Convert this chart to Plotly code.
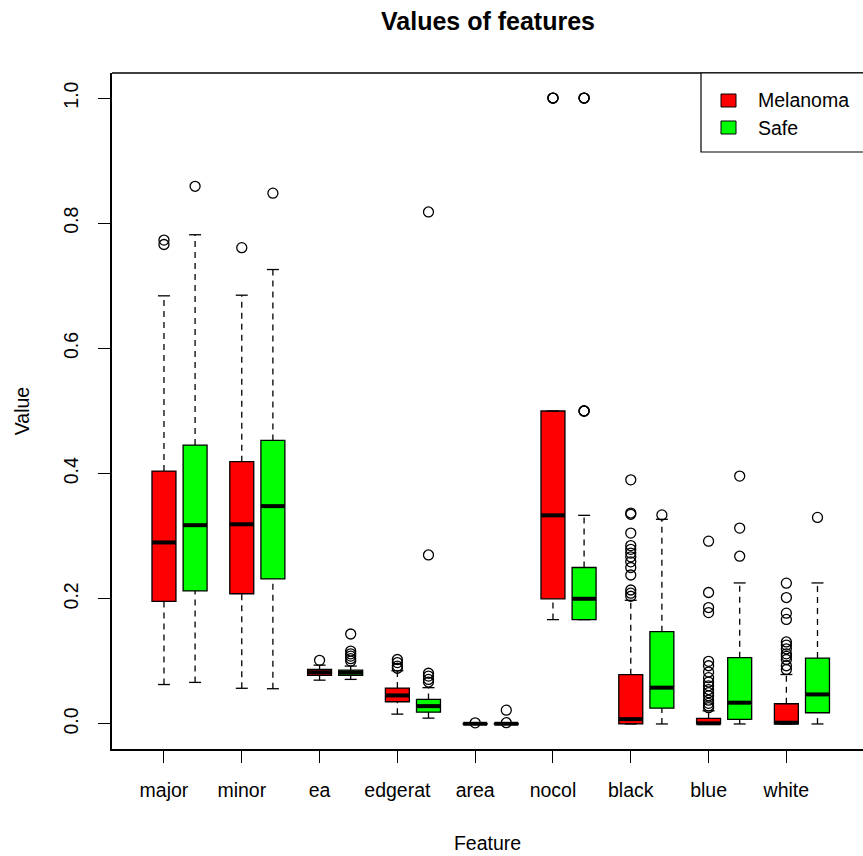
import plotly.graph_objects as go

# Features on the x axis
features = ["major", "minor", "ea", "edgerat", "area", "nocol", "black", "blue", "white"]

# Melanoma box statistics (lower whisker, Q1, median, Q3, upper whisker)
mel_low = [0.063, 0.057, 0.070, 0.0157, 0.0, 0.1667, 0.0, 0.0, 0.0]
mel_q1 = [0.196, 0.208, 0.0776, 0.0355, 0.0, 0.2, 0.0, 0.0, 0.0]
mel_med = [0.290, 0.319, 0.0824, 0.0456, 0.0003, 0.3333, 0.0077, 0.001, 0.002]
mel_q3 = [0.404, 0.419, 0.087, 0.0573, 0.0006, 0.5, 0.0787, 0.0088, 0.0323]
mel_high = [0.684, 0.685, 0.094, 0.085, 0.0012, 0.5, 0.1976, 0.021, 0.079]
mel_out = [
    [0.773, 0.766],
    [0.761],
    [0.1016],
    [0.103, 0.098, 0.0925, 0.089],
    [0.0018],
    [1.0, 1.0, 1.0],
    [0.390, 0.337, 0.335, 0.305, 0.285, 0.279, 0.273, 0.267, 0.259, 0.250, 0.238, 0.214, 0.209, 0.204],
    [0.292, 0.210, 0.186, 0.178, 0.100, 0.093, 0.083, 0.074, 0.067, 0.061, 0.055, 0.050, 0.045,
     0.038, 0.033, 0.029, 0.026],
    [0.225, 0.202, 0.177, 0.167, 0.131, 0.126, 0.120, 0.112, 0.108, 0.103, 0.093, 0.087],
]

# Safe box statistics
safe_low = [0.0664, 0.0563, 0.0712, 0.0093, 0.0, 0.1667, 0.0, 0.0, 0.0]
safe_q1 = [0.2125, 0.2317, 0.0776, 0.0189, 0.0, 0.1667, 0.0253, 0.0072, 0.0179]
safe_med = [0.3176, 0.348, 0.082, 0.0285, 0.0003, 0.2, 0.058, 0.034, 0.0472]
safe_q3 = [0.4456, 0.453, 0.086, 0.0392, 0.0006, 0.25, 0.1475, 0.1059, 0.1053]
safe_high = [0.7816, 0.726, 0.0925, 0.058, 0.0012, 0.3333, 0.327, 0.2253, 0.2253]
safe_out = [
    [0.859],
    [0.848],
    [0.1437, 0.1165, 0.112, 0.1085, 0.1043, 0.1005],
    [0.818, 0.270, 0.081, 0.0765, 0.0712, 0.067],
    [0.022, 0.002],
    [1.0, 1.0, 1.0, 0.5, 0.5, 0.5],
    [0.334],
    [0.396, 0.313, 0.268],
    [0.330],
]

y_ticks = [0.0, 0.2, 0.4, 0.6, 0.8, 1.0]

MEL_COLOR = "#FF0000"
SAFE_COLOR = "#00FF00"
FONT = "Liberation Sans, Arial, Helvetica, sans-serif"

W, H = 863, 856
L, R, T, B = 112, 0, 73, 107
BOX_W = 0.308
SHIFT = 0.4

pos = list(range(1, len(features) + 1))
mel_x = [p for p in pos]
safe_x = [p + SHIFT for p in pos]

fig = go.Figure()


def add_group(xs, low, q1, med, q3, high, outs, color):
    # dashed whiskers
    wx, wy = [], []
    for x, lo, a, b, hi in zip(xs, low, q1, q3, high):
        wx += [x, x, None, x, x, None]
        wy += [b, hi, None, lo, a, None]
    fig.add_trace(go.Scatter(x=wx, y=wy, mode="lines", showlegend=False, hoverinfo="skip",
                             line=dict(color="black", width=1.3, dash="6px,5px")))
    # staples
    sx, sy = [], []
    for x, lo, hi in zip(xs, low, high):
        for v in (lo, hi):
            sx += [x - BOX_W / 4, x + BOX_W / 4, None]
            sy += [v, v, None]
    fig.add_trace(go.Scatter(x=sx, y=sy, mode="lines", showlegend=False, hoverinfo="skip",
                             line=dict(color="black", width=1.3)))
    # boxes
    fig.add_trace(go.Box(x=xs, q1=q1, median=med, q3=q3, lowerfence=q1, upperfence=q3,
                         width=BOX_W, whiskerwidth=0, boxpoints=False, showlegend=False,
                         fillcolor=color, line=dict(color="black", width=1.3)))
    # thick medians
    mx, my = [], []
    for x, m in zip(xs, med):
        mx += [x - BOX_W / 2, x + BOX_W / 2, None]
        my += [m, m, None]
    fig.add_trace(go.Scatter(x=mx, y=my, mode="lines", showlegend=False, hoverinfo="skip",
                             line=dict(color="black", width=4)))
    # outliers
    ox, oy = [], []
    for x, o in zip(xs, outs):
        ox += [x] * len(o)
        oy += o
    fig.add_trace(go.Scatter(x=ox, y=oy, mode="markers", showlegend=False,
                             marker=dict(symbol="circle-open", size=10, color="black",
                                         line=dict(width=1.3, color="black"))))


add_group(mel_x, mel_low, mel_q1, mel_med, mel_q3, mel_high, mel_out, MEL_COLOR)
add_group(safe_x, safe_low, safe_q1, safe_med, safe_q3, safe_high, safe_out, SAFE_COLOR)

plot_w = W - L - R
plot_h = H - T - B


def px(xp):
    return (xp - L) / plot_w


def py(yp):
    return 1 - (yp - T) / plot_h


shapes = [
    # top border of the plot frame
    dict(type="line", xref="paper", yref="paper", x0=0, x1=1.02, y0=1, y1=1,
         line=dict(color="black", width=1.5)),
    # legend frame
    dict(type="rect", xref="paper", yref="paper", x0=px(701), x1=px(880), y0=py(152), y1=1,
         line=dict(color="black", width=1.2), fillcolor="white"),
    dict(type="rect", xref="paper", yref="paper", x0=px(721), x1=px(736), y0=py(107), y1=py(94),
         line=dict(color="black", width=1), fillcolor=MEL_COLOR),
    dict(type="rect", xref="paper", yref="paper", x0=px(721), x1=px(736), y0=py(134), y1=py(121),
         line=dict(color="black", width=1), fillcolor=SAFE_COLOR),
]

annotations = [
    dict(text="Melanoma", xref="paper", yref="paper", x=px(756), y=py(100.5), xanchor="left",
         yanchor="middle", showarrow=False, font=dict(size=19.5, color="black", family=FONT)),
    dict(text="Safe", xref="paper", yref="paper", x=px(756), y=py(127.5), xanchor="left",
         yanchor="middle", showarrow=False, font=dict(size=19.5, color="black", family=FONT)),
]

fig.update_layout(
    width=W, height=H,
    margin=dict(l=L, r=R, t=T, b=B, pad=0),
    paper_bgcolor="white", plot_bgcolor="white",
    font=dict(family=FONT, color="black", size=19.5),
    boxmode="overlay",
    title=dict(text="<b>Values of features</b>", x=(L + W + 1) / 2 / W, xanchor="center",
               y=1 - 21 / H, yanchor="middle", font=dict(size=25, family=FONT)),
    shapes=shapes,
    annotations=annotations,
    showlegend=False,
)

fig.update_xaxes(
    range=[0.332, 9.985], tickmode="array", tickvals=pos, ticktext=features,
    showline=True, linecolor="black", linewidth=1.5, mirror=False,
    ticks="outside", ticklen=12, tickwidth=1.3, tickcolor="black",
    ticklabelstandoff=11,
    showgrid=False, zeroline=False,
    title=dict(text="Feature", standoff=36, font=dict(size=19.5)),
)
fig.update_yaxes(
    range=[-0.04, 1.04], tickmode="array", tickvals=y_ticks,
    ticktext=[f"{v:.1f}" for v in y_ticks], tickangle=-90,
    showline=True, linecolor="black", linewidth=1.5,
    ticks="outside", ticklen=12, tickwidth=1.3, tickcolor="black",
    ticklabelstandoff=12,
    showgrid=False, zeroline=False,
    title=dict(text="Value", standoff=26, font=dict(size=19.5)),
)

fig.write_html("out.html")
